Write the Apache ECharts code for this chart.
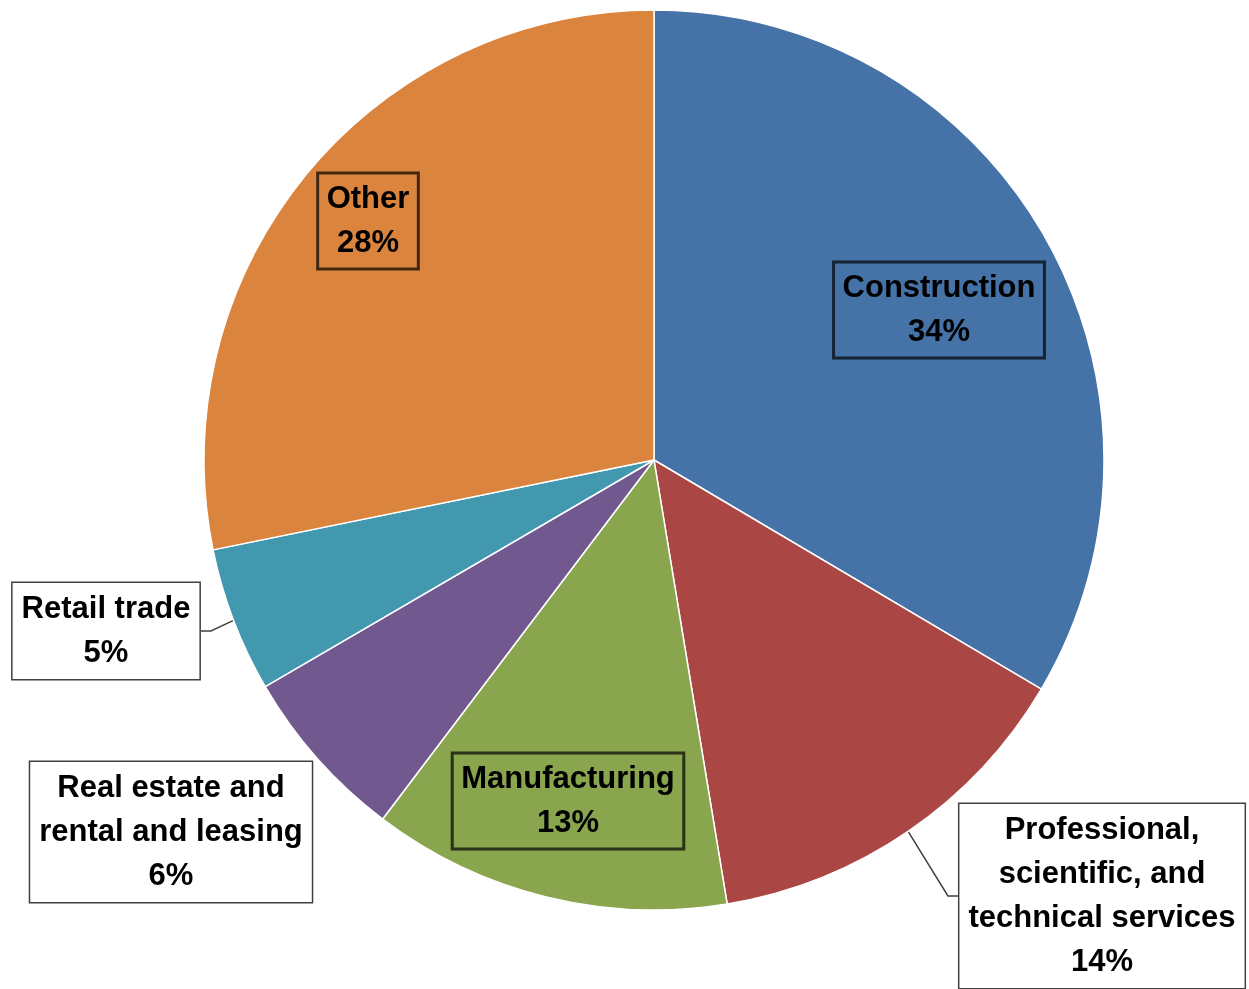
<!DOCTYPE html>
<html>
<head>
<meta charset="utf-8">
<script src="https://cdn.jsdelivr.net/npm/echarts@6/dist/echarts.min.js"></script>
<style>
  html, body { margin: 0; padding: 0; background: #fff; }
  #main { width: 1249px; height: 989px; }
</style>
</head>
<body>
<div id="main"></div>
<script>
var categories = [
  "Construction",
  "Professional,\nscientific, and\ntechnical services",
  "Manufacturing",
  "Real estate and\nrental and leasing",
  "Retail trade",
  "Other"
];
var shares = [33.5, 13.9, 12.9, 6.3, 5.2, 28.2];
var colors = ["#4572A7", "#AA4643", "#89A54E", "#71588F", "#4198AF", "#DB843D"];
// which labels sit outside the pie (white box + leader line)
var outside = [false, true, false, true, true, false];
// label box centres
var labelPos = [[939, 310], [1102, 896], [568, 801], [171, 832], [106, 631], [368, 221]];

var myChart = echarts.init(document.getElementById("main"));

var pieData = categories.map(function (name, i) {
  var item = {
    name: name,
    value: shares[i],
    itemStyle: { color: colors[i] }
  };
  if (outside[i]) {
    item.label = { backgroundColor: "#fff", borderColor: "#404040" };
    item.labelLine = { show: i !== 3 };
  } else {
    item.label = { backgroundColor: "transparent", borderColor: "rgba(0,0,0,0.7)" };
    item.labelLine = { show: false };
  }
  return item;
});

var option = {
  animation: false,
  series: [
    {
      type: "pie",
      center: [654, 460],
      radius: 450,
      startAngle: 90,
      clockwise: true,
      avoidLabelOverlap: false,
      itemStyle: { borderColor: "#fff", borderWidth: 1.5 },
      label: {
        show: true,
        position: "outside",
        formatter: function (p) {
          return p.name + "\n" + Math.round(p.percent) + "%";
        },
        color: "#000",
        fontFamily: "Liberation Sans",
        fontWeight: "bold",
        fontSize: 31,
        lineHeight: 44,
        align: "center",
        padding: [8, 9, 0, 9],
        borderWidth: 1.5
      },
      labelLine: {
        length: 20,
        length2: 10,
        lineStyle: { color: "#404040", width: 1.5 }
      },
      labelLayout: function (params) {
        var p = labelPos[params.dataIndex];
        return { x: p[0], y: p[1], align: "center", verticalAlign: "middle" };
      },
      data: pieData
    }
  ]
};

myChart.setOption(option);
</script>
</body>
</html>
